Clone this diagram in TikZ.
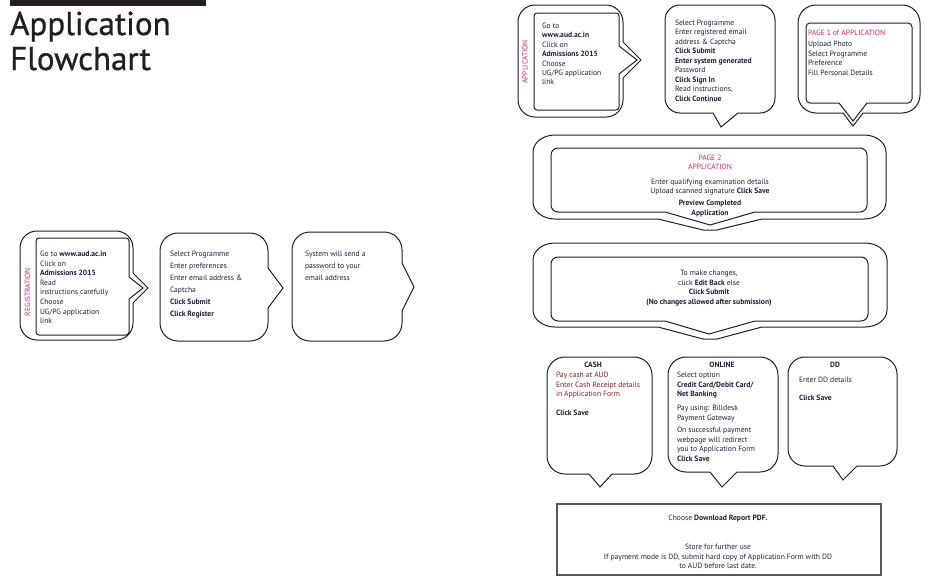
\documentclass[tikz,border=0pt]{standalone}
\usepackage{fontspec}
\setmainfont{PT Sans}
\newfontfamily\titlefont{PT Sans}[FakeBold=0.8]
\definecolor{txtc}{HTML}{1E1E3A}
\definecolor{labc}{HTML}{E0245E}
\definecolor{cashred}{HTML}{8B1E1E}
\definecolor{lnc}{HTML}{231F20}
\def\myrx{17}\def\myry{17}
% right-pointing bubble: x1 y1 x2 y2 ya xt yt yb style
\newcommand{\bubR}[9]{%
\draw[#9] ({0.5*(#1+#3)},#2) -- ({#3-\myrx},#2)
 .. controls ({#3-0.448*\myrx},#2) and (#3,{#2+0.448*\myry}) .. (#3,{#2+\myry})
 -- (#3,#5) -- (#6,#7) -- (#3,#8)
 -- (#3,{#4-\myry})
 .. controls (#3,{#4-0.448*\myry}) and ({#3-0.448*\myrx},#4) .. ({#3-\myrx},#4)
 -- ({#1+\myrx},#4)
 .. controls ({#1+0.448*\myrx},#4) and (#1,{#4-0.448*\myry}) .. (#1,{#4-\myry})
 -- (#1,{#2+\myry})
 .. controls (#1,{#2+0.448*\myry}) and ({#1+0.448*\myrx},#2) .. ({#1+\myrx},#2)
 -- cycle;}
% down-pointing bubble: x1 y1 x2 y2 xa xt yt xb style
\newcommand{\bubD}[9]{%
\draw[#9] ({0.5*(#1+#3)},#2) -- ({#3-\myrx},#2)
 .. controls ({#3-0.448*\myrx},#2) and (#3,{#2+0.448*\myry}) .. (#3,{#2+\myry})
 -- (#3,{#4-\myry})
 .. controls (#3,{#4-0.448*\myry}) and ({#3-0.448*\myrx},#4) .. ({#3-\myrx},#4)
 -- (#8,#4) -- (#6,#7) -- (#5,#4)
 -- ({#1+\myrx},#4)
 .. controls ({#1+0.448*\myrx},#4) and (#1,{#4-0.448*\myry}) .. (#1,{#4-\myry})
 -- (#1,{#2+\myry})
 .. controls (#1,{#2+0.448*\myry}) and ({#1+0.448*\myrx},#2) .. ({#1+\myrx},#2)
 -- cycle;}
% down-pointing bubble with flat tip: x1 y1 x2 y2 xa xt1 xt2 yt xb
\newcommand{\bubDF}[9]{%
\draw[bub] ({0.5*(#1+#3)},#2) -- ({#3-\myrx},#2)
 .. controls ({#3-0.448*\myrx},#2) and (#3,{#2+0.448*\myry}) .. (#3,{#2+\myry})
 -- (#3,{#4-\myry})
 .. controls (#3,{#4-0.448*\myry}) and ({#3-0.448*\myrx},#4) .. ({#3-\myrx},#4)
 -- (#9,#4) -- (#7,#8) -- (#6,#8) -- (#5,#4)
 -- ({#1+\myrx},#4)
 .. controls ({#1+0.448*\myrx},#4) and (#1,{#4-0.448*\myry}) .. (#1,{#4-\myry})
 -- (#1,{#2+\myry})
 .. controls (#1,{#2+0.448*\myry}) and ({#1+0.448*\myrx},#2) .. ({#1+\myrx},#2)
 -- cycle;}
\begin{document}
\begin{tikzpicture}[x=1pt,y=-1pt,
  bub/.style={draw=lnc,line width=1pt,line join=miter},
  txt/.style={inner sep=0pt,outer sep=0pt,align=left,anchor=north west,text=txtc,font=\fontsize{7.6}{9.6}\selectfont},
  ctxt/.style={txt,align=center,anchor=north},
  ttl/.style={inner sep=0pt,anchor=center,text=txtc,font=\fontsize{7.6}{9.6}\selectfont\bfseries},
  vlab/.style={inner sep=0pt,rotate=90,text=labc,font=\fontsize{7.5}{9}\selectfont},
  big/.style={inner sep=0pt,anchor=base west,text=lnc,font=\titlefont\fontsize{33}{35}\selectfont}]
\useasboundingbox (0,0) rectangle (931,581);
\fill[white] (0,0) rectangle (931,581);
% title
\fill[lnc] (10,0) rectangle (206,6);
\node[big] (t1) at (10,35) {Application};
\node[big] (t2) at (10,70) {Flowchart};
% ---------- registration row
\def\myrx{17}\def\myry{17}
\bubR{20}{231}{133}{340}{273}{148}{288}{303}{bub}
\def\myrx{3}\def\myry{3}
\bubR{36}{238}{129}{335}{277}{143}{288}{299}{bub}
\node[vlab] (regLab) at (27.5,292) {REGISTRATION};
\node[txt] (reg1) at (40,251) {Go to \textbf{www.aud.ac.in}\\Click on\\\textbf{Admissions 2015}\\Read\\instructions carefully\\Choose\\UG/PG application\\link};
\def\myrx{18}\def\myry{18}
\bubR{160}{233}{268}{341}{268}{283}{288}{308}{bub}
\node[txt,font=\fontsize{7.6}{12}\selectfont] (reg2) at (170,251) {Select Programme\\Enter preferences\\Enter email address \&\\Captcha\\\textbf{Click Submit}\\\textbf{Click Register}};
\bubR{292}{232}{402}{341}{263}{414}{287}{311}{bub}
\node[txt,font=\fontsize{7.6}{12}\selectfont] (reg3) at (305,251) {System will send a\\password to your\\email address};
% ---------- application row
\def\myrx{17}\def\myry{17}
\bubR{518}{5}{623}{117}{42}{641}{60}{78}{bub}
\def\myrx{3}\def\myry{3}
\bubR{534}{13}{619}{110}{46}{637}{60}{74}{bub}
\node[vlab] (appLab) at (525,62) {APPLICATION};
\node[txt,font=\fontsize{7.6}{9.4}\selectfont] (app1) at (542,23) {Go to\\\textbf{www.aud.ac.in}\\Click on\\\textbf{Admissions 2015}\\Choose\\UG/PG application\\link};
\def\myrx{15}\def\myry{15}
\bubD{665}{5}{775}{113}{713}{721}{127}{738}{bub}
\node[txt,font=\fontsize{7.6}{9.5}\selectfont] (app2) at (675,20) {Select Programme\\Enter registered email\\address \& Captcha\\\textbf{Click Submit}\\\textbf{Enter system generated}\\Password\\\textbf{Click Sign In}\\Read instructions,\\\textbf{Click Continue}};
\def\myrx{18}\def\myry{18}
\bubD{798}{5}{920}{113}{843}{853}{126}{863}{bub}
\def\myrx{4}\def\myry{4}
\bubD{806}{23}{912}{103}{839}{853}{121}{867}{bub}
\node[txt,font=\fontsize{7.6}{9.6}\selectfont] (app3) at (808,30) {\textcolor{labc}{PAGE 1 of APPLICATION}\\[1.5pt]Upload Photo\\Select Programme\\Preference\\Fill Personal Details};
% ---------- page 2
\def\myrx{22}\def\myry{17}
\bubDF{533}{135}{886}{219}{658}{703}{717}{230}{762}
\def\myrx{7}\def\myry{7}
\bubD{551}{148}{867}{212}{665}{710}{225}{755}{bub}
\node[ctxt,font=\fontsize{7.6}{9}\selectfont] (pg2) at (710,155) {\textcolor{labc}{PAGE 2}\\\textcolor{labc}{APPLICATION}\\[6pt]Enter qualifying examination details\\Upload scanned signature \textbf{Click Save}\\[3pt]\textbf{Preview Completed}\\[1pt]\textbf{Application}};
% ---------- changes
\def\myrx{22}\def\myry{17}
\bubDF{533}{243}{887}{327}{658}{703}{717}{339}{762}
\def\myrx{7}\def\myry{7}
\bubD{551}{257}{868}{321}{665}{709}{334}{755}{bub}
\node[ctxt,font=\fontsize{7.6}{9.7}\selectfont] (chg) at (709,270) {To make changes,\\click \textbf{Edit Back} else\\\textbf{Click Submit}\\\textbf{(No changes allowed after submission)}};
% ---------- payment
\def\myrx{18}\def\myry{18}
\bubD{547}{357}{652}{474}{589}{600}{487}{612}{bub}
\node[ttl] (cashT) at (593,365) {CASH};
\node[txt] (cash) at (556,372) {\textcolor{cashred}{Pay cash at AUD}\\\textcolor{cashred}{Enter Cash Receipt details}\\\textcolor{cashred}{in Application Form}\\[9.6pt]\textbf{Click Save}};
\bubD{668}{357}{778}{472}{710}{722}{487}{737}{bub}
\node[ttl] (onlT) at (722,365) {ONLINE};
\node[txt,font=\fontsize{7.6}{9.7}\selectfont] (onl) at (677,372) {Select option\\\textbf{Credit Card/Debit Card/}\\\textbf{Net Banking}\\[4.3pt]Pay using: Billdesk\\Payment Gateway\\[2.3pt]On successful payment\\webpage will redirect\\you to Application Form\\\textbf{Click Save}};
\def\myrx{17}\def\myry{17}
\bubD{788}{357}{897}{466}{833}{843}{480}{857}{bub}
\node[ttl] (ddT) at (835,365) {DD};
\node[txt,font=\fontsize{7.6}{9.7}\selectfont] (dd) at (799,377) {Enter DD details\\[8.3pt]\textbf{Click Save}};
% ---------- final box
\draw[draw=black!65,line width=1.2pt] (557,504) rectangle (881,575);
\node[ctxt,font=\fontsize{7.6}{9.6}\selectfont] (fin) at (718,515) {Choose \textbf{Download Report PDF.}\\[19.4pt]Store for further use\\If payment mode is DD, submit hard copy of Application Form with DD\\to AUD before last date.};
\end{tikzpicture}
\end{document}
